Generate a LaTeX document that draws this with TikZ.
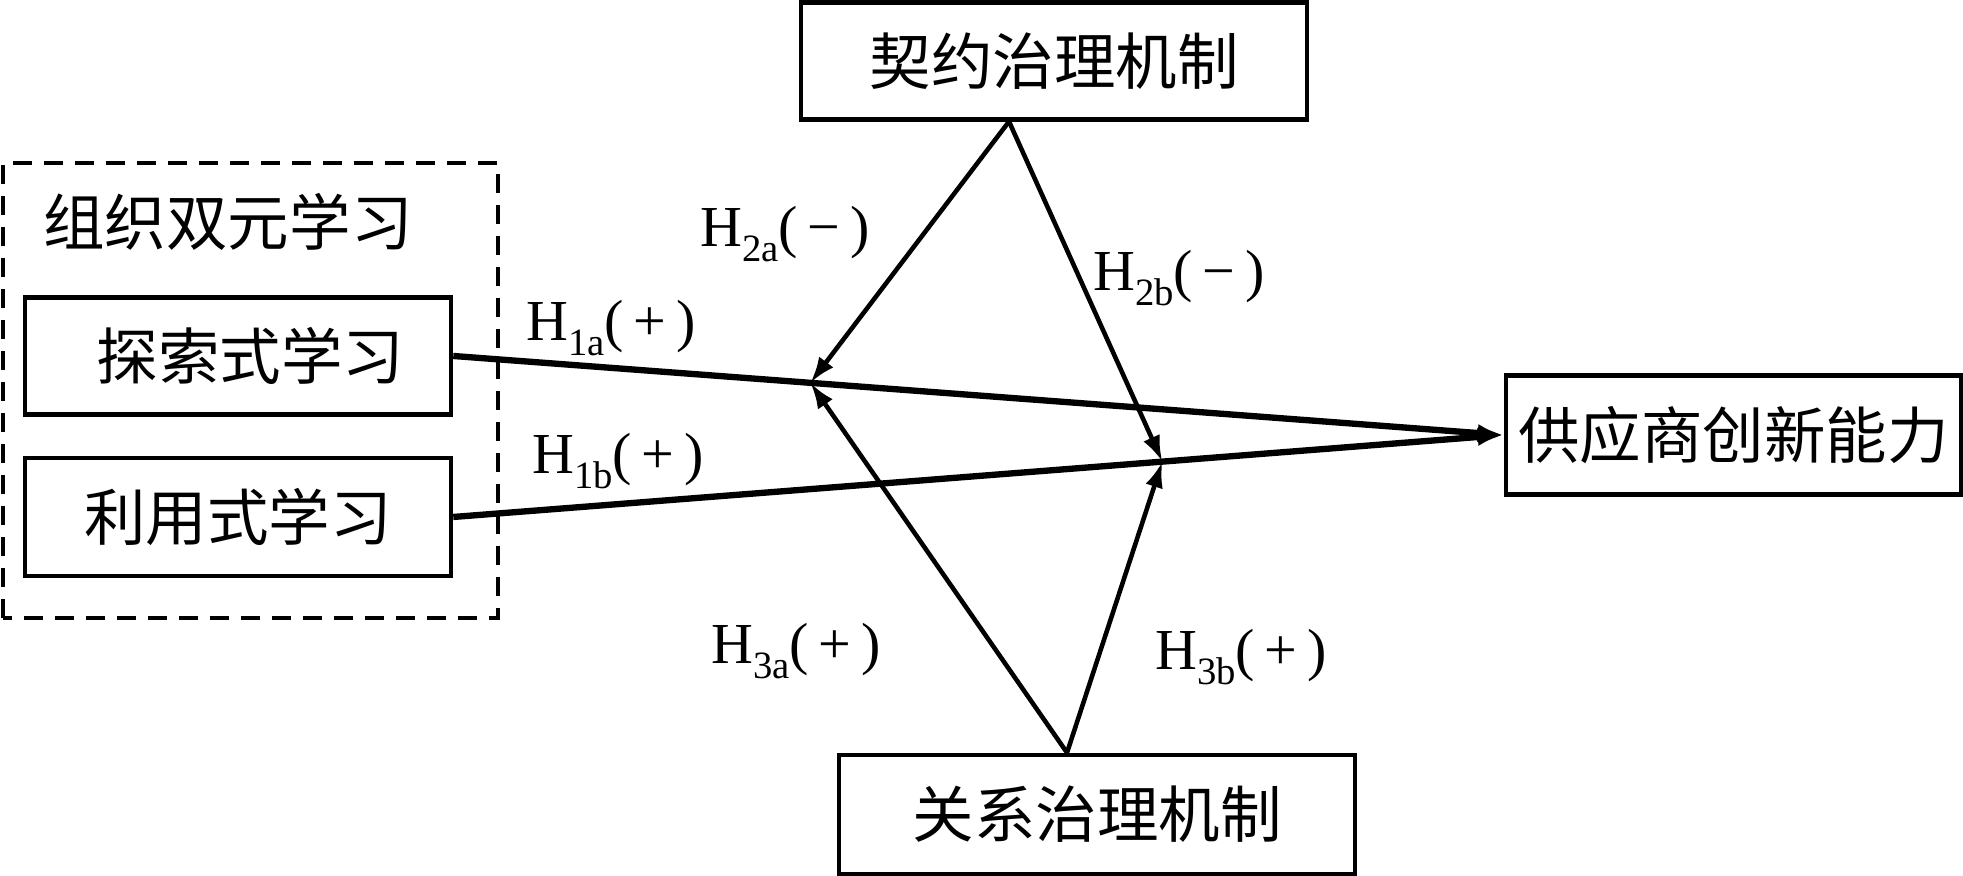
\documentclass[tikz,border=0pt]{standalone}
\usepackage{fontspec}
\setmainfont{Liberation Serif}
\newfontfamily\cjk{Noto Sans CJK SC}
\usetikzlibrary{arrows.meta}

\newcommand{\hsub}[1]{\raisebox{-0.55ex}{\fontsize{11}{13}\selectfont #1}}

\begin{document}
\begin{tikzpicture}[
    box/.style={draw, line width=1.3pt, inner sep=0pt, font=\cjk\fontsize{17.5}{20}\selectfont},
    hyp/.style={font=\fontsize{16.5}{19}\selectfont, inner sep=0pt},
    mainarrow/.style={line width=1.8pt, -{Latex[length=2.6mm,width=1.8mm]}},
    modarrow/.style={line width=1.3pt, -{Latex[length=2.6mm,width=1.8mm]}}
  ]
      \useasboundingbox (0,0) rectangle (19.63,8.76);

      % dashed group
      \draw [line width=1.4pt, dash pattern=on 1.9mm off 1.2mm] (0.03,2.58) rectangle (4.98,7.13);
      \node (group) [font=\cjk\fontsize{17.5}{20}\selectfont] at (2.28,6.54) {组织双元学习};

      \node (explore) [box, minimum width=4.26cm, minimum height=1.165cm] at (2.38,5.20) {\hspace{0.25cm}探索式学习};
      \node (exploit) [box, minimum width=4.26cm, minimum height=1.18cm] at (2.38,3.59) {利用式学习};
      \node (innov) [box, minimum width=4.55cm, minimum height=1.19cm] at (17.335,4.41) {供应商创新能力};
      \node (contract) [box, minimum width=5.06cm, minimum height=1.165cm] at (10.54,8.15) {契约治理机制};
      \node (relation) [box, minimum width=5.16cm, minimum height=1.19cm] at (10.97,0.615) {关系治理机制};

      % main effects
      \draw [mainarrow] (explore.east) -- coordinate[pos=.34] (ma) (innov.west);
      \draw [mainarrow] (exploit.east) -- coordinate[pos=.675] (mb) (innov.west);

      % moderators
      \coordinate (ctop) at ([xshift=-0.45cm]contract.south);
      \coordinate (rtop) at ([xshift=-0.30cm]relation.north);
      \draw [modarrow] (ctop) -- (ma);
      \draw [modarrow] (ctop) -- (mb);
      \draw [modarrow] (rtop) -- (ma);
      \draw [modarrow] (rtop) -- (mb);

      \node (h1a) [hyp] at (6.11,5.48) {H\hsub{1a}(\,+\,)};
      \node (h1b) [hyp] at (6.18,4.15) {H\hsub{1b}(\,+\,)};
      \node (h2a) [hyp] at (7.85,6.42) {H\hsub{2a}(\,−\,)};
      \node (h2b) [hyp] at (11.79,5.98) {H\hsub{2b}(\,−\,)};
      \node (h3a) [hyp] at (7.96,2.25) {H\hsub{3a}(\,+\,)};
      \node (h3b) [hyp] at (12.41,2.19) {H\hsub{3b}(\,+\,)};

\end{tikzpicture}
\end{document}
